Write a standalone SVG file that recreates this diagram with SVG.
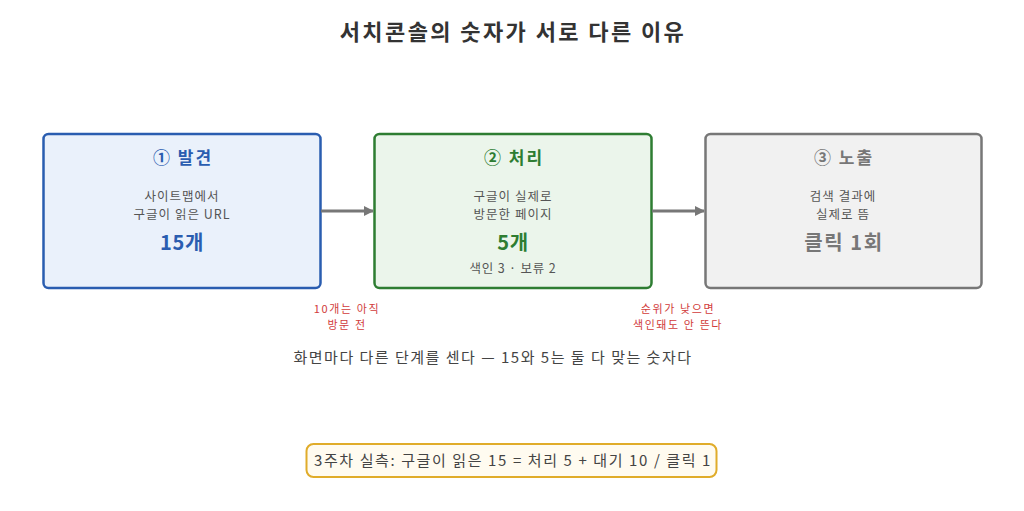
<svg xmlns="http://www.w3.org/2000/svg" width="1024" height="511" viewBox="0 0 1024 511">
<defs>
<marker id="arr" markerWidth="10" markerHeight="10" refX="9" refY="5" orient="auto" markerUnits="userSpaceOnUse">
<path d="M0,0 L10,5 L0,10 Z" fill="#777"/>
</marker>
<style>
text{font-family:"Noto Sans CJK KR","Noto Sans",sans-serif;text-anchor:middle}
.title{font-size:22px;font-weight:bold;fill:#333;letter-spacing:2.4px}
.head{font-size:17px;font-weight:bold;letter-spacing:2px}
.sub{font-size:12.5px;fill:#555;letter-spacing:1px}
.big{font-size:20px;font-weight:bold;letter-spacing:0.6px}
.note{font-size:11px;fill:#d13b3b;letter-spacing:1.6px}
.mid{font-size:15px;fill:#444;letter-spacing:1.5px}
.conn{stroke:#777;stroke-width:3;fill:none}
</style>
</defs>
<rect width="1024" height="511" fill="#fff"/>
<text class="title" x="513" y="40">서치콘솔의 숫자가 서로 다른 이유</text>
<g id="node1">
<rect x="43.5" y="134" width="277" height="154" rx="5" fill="#eaf1fb" stroke="#2a5db0" stroke-width="2.5"/>
<text class="head" x="183" y="164" fill="#2a5db0">① 발견</text>
<text class="sub"><tspan x="182" y="200.5">사이트맵에서</tspan><tspan x="182" y="218.8">구글이 읽은 URL</tspan></text>
<text class="big" x="182" y="250" fill="#2a5db0">15개</text>
</g>
<g id="node2">
<rect x="374.5" y="134" width="277" height="154" rx="5" fill="#ebf5eb" stroke="#2e7d32" stroke-width="2.5"/>
<text class="head" x="514" y="164" fill="#2e7d32">② 처리</text>
<text class="sub"><tspan x="513" y="200.5">구글이 실제로</tspan><tspan x="513" y="218.8">방문한 페이지</tspan></text>
<text class="big" x="513" y="250" fill="#2e7d32">5개</text>
<text class="sub" x="513" y="273" style="letter-spacing:0.8px">색인 3 · 보류 2</text>
</g>
<g id="node3">
<rect x="705.5" y="134" width="276" height="154" rx="5" fill="#f1f1f1" stroke="#777" stroke-width="2.5"/>
<text class="head" x="844" y="164" fill="#777">③ 노출</text>
<text class="sub"><tspan x="843" y="200.5">검색 결과에</tspan><tspan x="843" y="218.8">실제로 뜸</tspan></text>
<text class="big" x="844" y="250" fill="#777" style="letter-spacing:1.6px">클릭 1회</text>
</g>
<g id="connectors">
<line class="conn" x1="321" y1="211" x2="373" y2="211" marker-end="url(#arr)"/>
<line class="conn" x1="652" y1="211" x2="704" y2="211" marker-end="url(#arr)"/>
</g>
<g id="notes">
<text class="note"><tspan x="347" y="313">10개는 아직</tspan><tspan x="347" y="329.2">방문 전</tspan></text>
<text class="note"><tspan x="678" y="313">순위가 낮으면</tspan><tspan x="678" y="329.2">색인돼도 안 뜬다</tspan></text>
</g>
<text class="mid" x="493" y="363">화면마다 다른 단계를 센다 — 15와 5는 둘 다 맞는 숫자다</text>
<g id="summary">
<rect x="306.5" y="444" width="410" height="33" rx="7" fill="#fffbf0" stroke="#e0ac2a" stroke-width="2"/>
<text class="mid" x="513" y="466" style="letter-spacing:1.6px">3주차 실측: 구글이 읽은 15 = 처리 5 + 대기 10 / 클릭 1</text>
</g>
</svg>
